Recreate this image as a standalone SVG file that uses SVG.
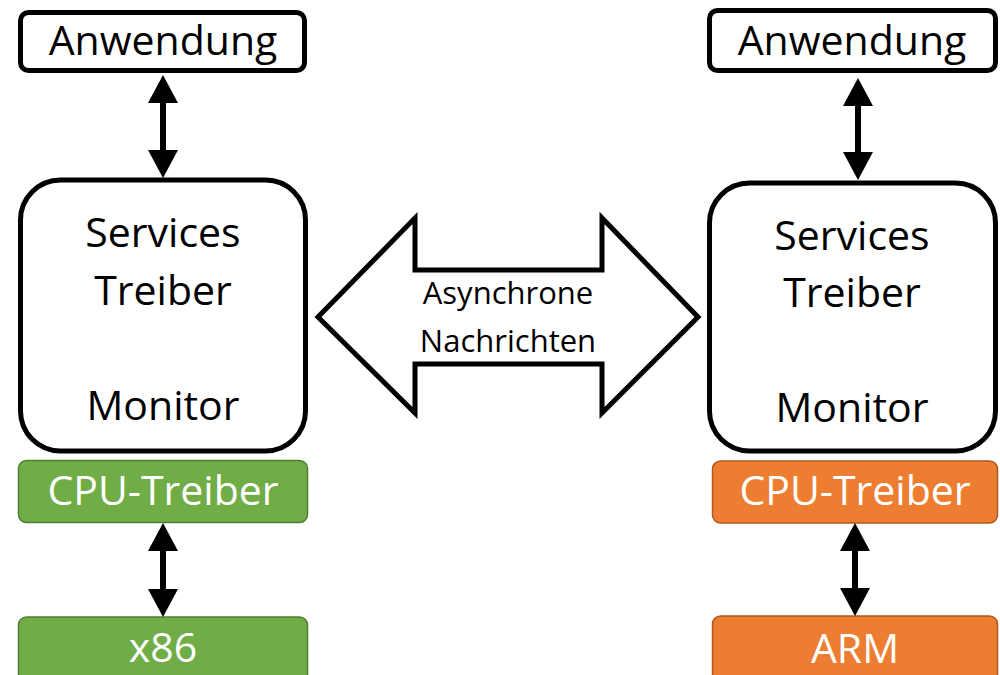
<svg xmlns="http://www.w3.org/2000/svg" width="1000" height="675" viewBox="0 0 1000 675">
  <style>
    .box { fill: #ffffff; stroke: #000000; stroke-width: 5; }
    .green { fill: #70AD47; stroke: #507E32; stroke-width: 1.5; }
    .orange { fill: #ED7D31; stroke: #AE5A21; stroke-width: 1.5; }
    .lbl { font-family: "Open Sans", "Noto Sans", sans-serif; font-size: 41px; text-anchor: middle; fill: #000000; }
    .lbl.w { fill: #ffffff; }
    .small { font-size: 31px; }
    .conn { stroke: #000000; stroke-width: 6; fill: none; marker-start: url(#head); marker-end: url(#head); }
  </style>
  <defs>
    <marker id="head" markerUnits="userSpaceOnUse" markerWidth="28" markerHeight="30" refX="8" refY="15" orient="auto-start-reverse">
      <path d="M0,0 L28,15 L0,30 z" fill="#000000"/>
    </marker>
  </defs>
  <rect width="1000" height="675" fill="#ffffff"/>

  <!-- left stack -->
  <g id="app-left">
    <rect class="box" x="20.5" y="12.5" width="284" height="58" rx="8"/>
    <text class="lbl" x="163" y="55">Anwendung</text>
  </g>
  <g id="core-left">
    <rect class="box" x="20.5" y="180" width="285" height="271" rx="40"/>
    <text class="lbl" x="163" y="247">Services</text>
    <text class="lbl" x="163" y="305">Treiber</text>
    <text class="lbl" x="163" y="420">Monitor</text>
  </g>
  <g id="cpu-left">
    <rect class="green" x="18.5" y="460.5" width="289" height="62" rx="8"/>
    <text class="lbl w" x="163" y="505">CPU-Treiber</text>
  </g>
  <g id="hw-left">
    <rect class="green" x="18.5" y="617" width="289" height="70" rx="8"/>
    <text class="lbl w" x="163" y="662">x86</text>
  </g>

  <!-- right stack -->
  <g id="app-right">
    <rect class="box" x="709.5" y="10.5" width="286" height="60" rx="8"/>
    <text class="lbl" x="852" y="55">Anwendung</text>
  </g>
  <g id="core-right">
    <rect class="box" x="709.5" y="183" width="286" height="268" rx="40"/>
    <text class="lbl" x="852" y="250">Services</text>
    <text class="lbl" x="852" y="307">Treiber</text>
    <text class="lbl" x="852" y="422">Monitor</text>
  </g>
  <g id="cpu-right">
    <rect class="orange" x="712.5" y="461" width="285" height="62" rx="8"/>
    <text class="lbl w" x="855" y="505">CPU-Treiber</text>
  </g>
  <g id="hw-right">
    <rect class="orange" x="712.5" y="616" width="285" height="70" rx="8"/>
    <text class="lbl w" x="855" y="663">ARM</text>
  </g>

  <!-- message channel between the two stacks -->
  <g id="messages">
    <polygon class="box" stroke-linejoin="miter" points="318,317 415,218 415,270 602,270 602,218 698,317 602,413 602,364 415,364 415,413"/>
    <text class="lbl small" x="508" y="304">Asynchrone</text>
    <text class="lbl small" x="508" y="352">Nachrichten</text>
  </g>

  <g id="connectors">
    <line class="conn" x1="163" y1="95" x2="163" y2="158"/>
    <line class="conn" x1="163" y1="543" x2="163" y2="597"/>
    <line class="conn" x1="858" y1="98" x2="858" y2="160"/>
    <line class="conn" x1="855" y1="543" x2="855" y2="596"/>
  </g>
</svg>
